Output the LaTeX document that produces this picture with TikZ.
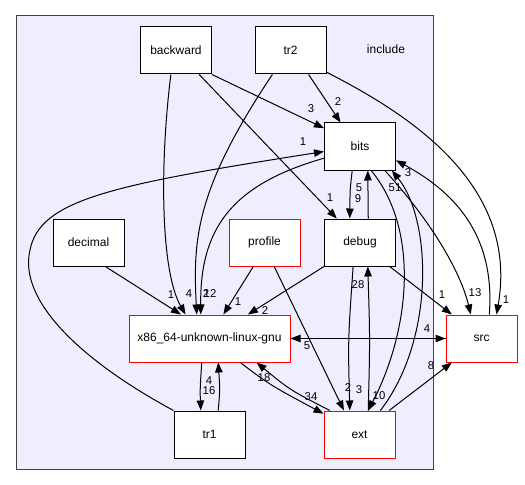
\documentclass[tikz,border=0pt]{standalone}
\usepackage{fontspec}
\setmainfont{Liberation Sans}
\usetikzlibrary{arrows.meta}
\definecolor{clusterfill}{RGB}{238,238,255}
\definecolor{clusterline}{RGB}{64,64,64}
\definecolor{dirred}{RGB}{255,0,0}

\tikzset{
  dirbox/.style={draw=black,fill=white,line width=0.75pt,minimum width=53.25pt,minimum height=35.25pt,inner sep=0pt,font=\fontsize{9}{10}\selectfont},
  redbox/.style={dirbox,draw=dirred},
  edge/.style={line width=0.75pt,-{Triangle[length=7.5pt,width=5.6pt]}},
  lbl/.style={inner sep=0pt,font=\fontsize{8.5}{9}\selectfont}
}

\begin{document}
\begin{tikzpicture}[x=0.75pt,y=-0.75pt]
        \useasboundingbox (0,0) rectangle (525,485);
        \draw[fill=clusterfill,draw=clusterline,line width=0.75pt] (16,16) rectangle (433,469);
        \node[lbl,font=\fontsize{9}{10}\selectfont] (include) at (386,49) {include};

        \node[dirbox] (backward) at (176,50.5) {backward};
        \node[dirbox] (tr2) at (290.5,50.5) {tr2};
        \node[dirbox] (bits) at (360,146.5) {bits};
        \node[dirbox] (decimal) at (88.5,242.5) {decimal};
        \node[redbox] (profile) at (264.5,242.5) {profile};
        \node[dirbox] (debug) at (360,242.5) {debug};
        \node[redbox,minimum width=120.75pt] (x86) at (209.5,338.5) {x86\_64-unknown-linux-gnu};
        \node[redbox] (src) at (481.5,338.5) {src};
        \node[dirbox] (tr1) at (209.5,434.5) {tr1};
        \node[redbox] (ext) at (359.5,434.5) {ext};

        \draw[edge] (backward.south east) -- (bits.153);
        \draw[edge] (backward.-102) .. controls (160,160) and (160,270) .. (x86.135);
        \draw[edge] (backward.-46) -- (debug.134);
        \draw[edge] (tr2.-53) -- (bits.129);
        \draw[edge] (tr2.-127) .. controls (195,190) and (193,240) .. (x86.118);
        \draw[edge] (tr2.-31) .. controls (400,110) and (520,180) .. (src.58);
        \draw[edge] (tr1.north west) .. controls (80,360) and (18,300) .. (30,250)
                    .. controls (40,200) and (110,185) .. (bits.-172);
        \draw[edge] (decimal.-55) -- (x86.140);
        \draw[edge] (profile.-115) -- (x86.60);
        \draw[edge] (profile.-68) -- (ext.123);
        \draw[edge] (bits.-162) .. controls (230,185) and (200,230) .. (x86.110);
        \draw[edge] (bits.-108) .. controls (350,190) .. (debug.113);
        \draw[edge] (debug.71) -- (bits.-72);
        \draw[edge] (bits.-44) .. controls (430,220) and (460,270) .. (src.114);
        \draw[edge] (src.72) .. controls (495,240) and (460,195) .. (bits.-21);
        \draw[edge] (bits.-65) .. controls (420,230) and (410,330) .. (ext.70);
        \draw[edge] (ext.49) .. controls (435,340) and (432,220) .. (bits.-37);
        \draw[edge] (debug.south west) -- (x86.32);
        \draw[edge] (debug.-39) -- (src.141);
        \draw[edge] (debug.-106) .. controls (348,340) .. (ext.112);
        \draw[edge] (ext.70) .. controls (370,340) .. (debug.-72);
        \draw[edge] (x86.east) -- (src.west);
        \draw[edge] (src.west) -- (x86.east);
        \draw[edge] (x86.-108) .. controls (200,390) .. (tr1.110);
        \draw[edge] (tr1.70) .. controls (220,390) .. (x86.-70);
        \draw[edge] (x86.-38) .. controls (270,385) .. (ext.150);
        \draw[edge] (ext.141) .. controls (290,390) .. (x86.-27);
        \draw[edge] (ext.39) -- (src.-141);

        \node[lbl] (l-bw-bits) at (311,109) {3};
        \node[lbl] (l-tr2-bits) at (338,102) {2};
        \node[lbl] (l-tr1-bits) at (303,142) {1};
        \node[lbl] (l-bw-debug) at (330,198) {1};
        \node[lbl] (l-debug-bits) at (359,188) {5};
        \node[lbl] (l-bits-debug) at (358,199) {9};
        \node[lbl] (l-ext-bits) at (395,188) {51};
        \node[lbl] (l-src-bits) at (408,173) {3};
        \node[lbl] (l-dec-x86) at (171,295) {1};
        \node[lbl] (l-bw-x86) at (189,294) {4};
        \node[lbl] (l-tr2-x86) at (206,294) {2};
        \node[lbl] (l-bits-x86) at (210,294) {12};
        \node[lbl] (l-prof-x86) at (238,302) {1};
        \node[lbl] (l-debug-x86) at (265,311) {2};
        \node[lbl] (l-debug-src) at (442,295) {1};
        \node[lbl] (l-bits-src) at (475,293) {13};
        \node[lbl] (l-tr2-src) at (506,300) {1};
        \node[lbl] (l-ext-debug) at (358,285) {28};
        \node[lbl] (l-x86-src) at (427,329) {4};
        \node[lbl] (l-src-x86) at (307,346) {5};
        \node[lbl] (l-ext-src) at (431,366) {8};
        \node[lbl] (l-tr1-x86) at (209,381) {4};
        \node[lbl] (l-x86-tr1) at (209,391) {16};
        \node[lbl] (l-ext-x86) at (264,378) {18};
        \node[lbl] (l-x86-ext) at (311,397) {34};
        \node[lbl] (l-prof-ext) at (348,388) {2};
        \node[lbl] (l-debug-ext) at (359,390) {3};
        \node[lbl] (l-bits-ext) at (379,396) {10};
      \end{tikzpicture}
\end{document}
